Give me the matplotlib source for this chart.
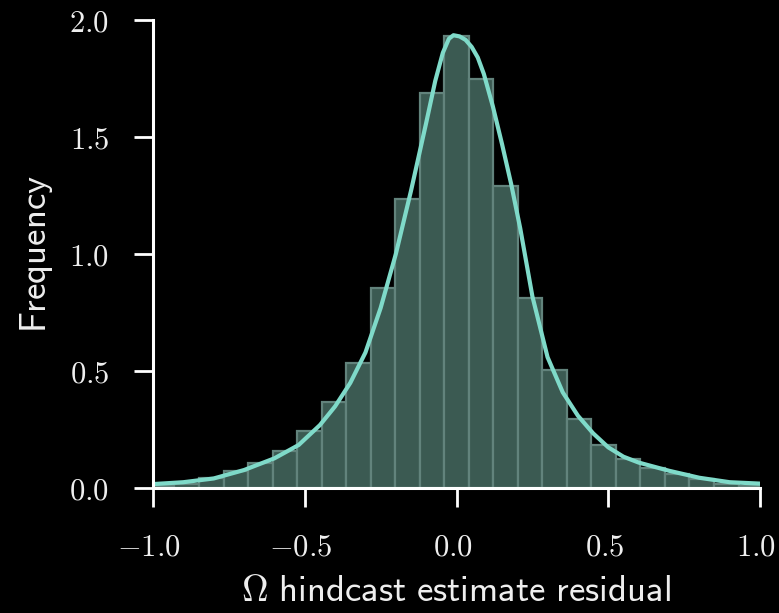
import matplotlib
matplotlib.use('Agg')
import matplotlib.pyplot as plt
import matplotlib.transforms as mtransforms
import numpy as np

plt.rcParams['mathtext.fontset'] = 'cm'

# histogram (density): 25 bins over about [-1.01, 1.01]
bin_edges = np.linspace(-1.01, 1.01, 26)
bin_heights = [0.01, 0.02, 0.045, 0.073, 0.11, 0.158, 0.243, 0.367, 0.534, 0.857,
               1.237, 1.69, 1.93, 1.75, 1.29, 0.814, 0.505, 0.296, 0.184, 0.123,
               0.088, 0.06, 0.04, 0.02, 0.01]

# smoothed density curve
kde_x = [-1.0, -0.9, -0.8, -0.7, -0.6, -0.52, -0.45, -0.4, -0.35, -0.3, -0.25, -0.2,
         -0.15, -0.1, -0.07, -0.045, -0.025, -0.01, 0.01, 0.03, 0.05, 0.07, 0.09, 0.12,
         0.15, 0.18, 0.21, 0.25, 0.3, 0.35, 0.4, 0.45, 0.5, 0.55, 0.6, 0.7, 0.8, 0.9, 1.0]
kde_y = [0.018, 0.026, 0.042, 0.078, 0.128, 0.185, 0.27, 0.35, 0.45, 0.58, 0.77, 1.0,
         1.27, 1.56, 1.74, 1.86, 1.92, 1.935, 1.93, 1.915, 1.885, 1.84, 1.77, 1.63,
         1.47, 1.30, 1.11, 0.82, 0.56, 0.41, 0.31, 0.235, 0.175, 0.135, 0.11, 0.075,
         0.045, 0.026, 0.02]

xticks = [-1.0, -0.5, 0.0, 0.5, 1.0]
yticks = [0.0, 0.5, 1.0, 1.5, 2.0]

fig = plt.figure(figsize=(7.79, 6.13), dpi=100, facecolor='black')
ax = fig.add_axes([153 / 779, 124.7 / 613, 607 / 779, 468.3 / 613])
ax.set_facecolor('black')

ax.bar(bin_edges[:-1], bin_heights, width=np.diff(bin_edges), align='edge',
       color='#3b5a52', edgecolor='#62837c', linewidth=1.6)
ax.plot(kde_x, kde_y, color='#7fdac9', linewidth=3, solid_capstyle='round',
        solid_joinstyle='round')

ax.set_xlim(-1, 1)
ax.set_ylim(0, 2)
ax.set_xticks(xticks)
ax.set_xticklabels(['$%.1f$' % v for v in xticks])
ax.set_yticks(yticks)
ax.set_yticklabels(['$%.1f$' % v for v in yticks])

for s in ['top', 'right']:
    ax.spines[s].set_visible(False)
for s in ['left', 'bottom']:
    ax.spines[s].set_color('white')
    ax.spines[s].set_linewidth(2.2)

ax.tick_params(direction='out', length=13.5, width=2, color='white',
               labelcolor='#eeeeee', labelsize=22, pad=18)

# nudge x tick labels a little to the left, like the original
shift = mtransforms.ScaledTranslation(-4 / 100, 0, fig.dpi_scale_trans)
for lab in ax.get_xticklabels():
    lab.set_transform(lab.get_transform() + shift)

ax.set_xlabel(r'$\mathsf{\Omega\ hindcast\ estimate\ residual}$', fontsize=26.5,
              color='#eeeeee', labelpad=8)
ax.set_ylabel(r'$\mathsf{Frequency}$', fontsize=26.5, color='#eeeeee', labelpad=10)

fig.savefig('out.png', dpi=100, facecolor='black')
